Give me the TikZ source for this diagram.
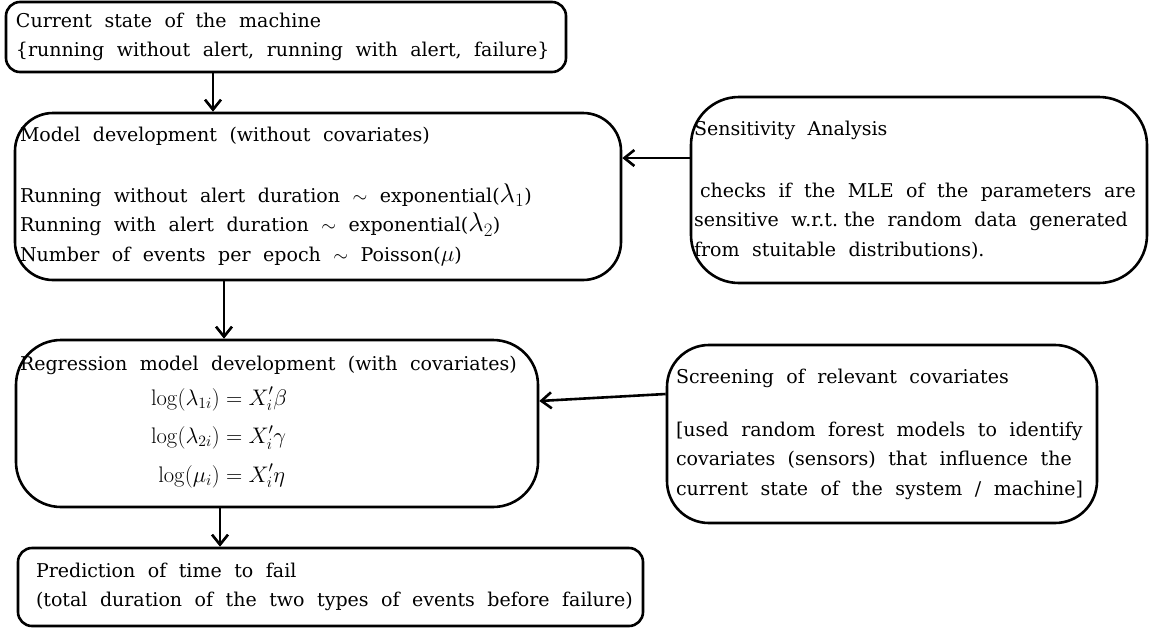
\RequirePackage{fix-cm}
\documentclass[tikz,border=0pt]{standalone}
\usepackage{amsmath}
\usepackage[no-math]{fontspec}
\setmainfont{DejaVu Serif}
\usetikzlibrary{positioning, arrows.meta, calc}
\XeTeXinterwordspaceshaping=0

\newcommand{\boxfont}{\fontsize{19}{29.5}\selectfont}
\newcommand{\widespace}{\fontdimen2\font=12.5pt\relax\spaceskip=12.5pt plus 3pt minus 2pt\relax}
\newcommand{\biglam}[1]{{\fontsize{27}{29.5}\selectfont$\lambda_{#1}$}}

\begin{document}
\begin{tikzpicture}[x=1pt, y=-1pt,
    box/.style={draw, line width=2.6pt, font=\boxfont, align=left, inner ysep=0pt,
                execute at begin node=\widespace},
    arr/.style={-{Straight Barb[length=10pt, width=16pt]}, line width=2.6pt}]
    \useasboundingbox (0,0) rectangle (1157,630);
    \node[box, rounded corners=14pt, minimum width=560pt, minimum height=70pt,
          inner xsep=10pt, text width=540pt] (state) at (286,37)
          {Current state of the machine\\\{running without alert, running with alert, failure\}};
    \node[box, rounded corners=38pt, minimum width=606pt, minimum height=167pt,
          inner xsep=5pt, text width=596pt] (model) at (318,196.5)
          {Model development (without covariates)\\[31.5pt]
           Running without alert duration $\sim$ exponential(\biglam{1})\\
           Running with alert duration $\sim$ exponential(\biglam{2})\\
           Number of events per epoch $\sim$ Poisson({\fontsize{23}{29.5}\selectfont$\mu$})};
    \node[box, rounded corners=45pt, minimum width=522pt, minimum height=167pt,
          inner xsep=4pt, text width=514pt] (reg) at (277,423.5)
          {Regression model development (with covariates)\\[5pt]
           \hspace*{131pt}{\fontsize{22.5}{29.5}\selectfont$\begin{aligned}[t]
             \log(\lambda_{1i}) &= X_i'\beta\\[6pt]
             \log(\lambda_{2i}) &= X_i'\gamma\\[6pt]
             \log(\mu_i) &= X_i'\eta
           \end{aligned}$}};
    \node[box, rounded corners=14pt, minimum width=625pt, minimum height=78pt,
          inner xsep=8pt, text width=609pt] (pred) at (330.5,587)
          {\hspace*{10pt}Prediction of time to fail\\
           \hspace*{10pt}(total duration of the two types of events before failure)};
    \node[box, rounded corners=48pt, minimum width=456pt, minimum height=186pt,
          inner xsep=3pt, text width=450pt] (sens) at (919,190)
          {Sensitivity Analysis\\[32.5pt]
           \hspace*{6pt}checks if the MLE of the parameters are\\
           sensitive w.r.t.\hspace{6pt}the random data generated\\
           from stuitable distributions).};
    \node[box, rounded corners=42pt, minimum width=430pt, minimum height=178pt,
          inner xsep=9pt, text width=412pt] (scr) at (882,434)
          {Screening of relevant covariates\\[23.5pt]
           [used random forest models to identify\\
           covariates (sensors) that influence the\\
           current state of the system / machine]};
    \draw[arr] ([xshift=-73pt]state.south) -- ([xshift=-73pt]state.south |- model.north);
    \draw[arr] ([xshift=-94pt]model.south) -- ([xshift=-94pt]model.south |- reg.north);
    \draw[arr] ([xshift=-57pt]reg.south) -- ([xshift=-57pt]reg.south |- pred.north);
    \draw[arr] ([yshift=32pt]sens.west) -- ([yshift=32pt]sens.west -| model.east);
    \draw[arr] ([yshift=40pt]scr.west) -- ([yshift=22.5pt]reg.east);
\end{tikzpicture}
\end{document}
